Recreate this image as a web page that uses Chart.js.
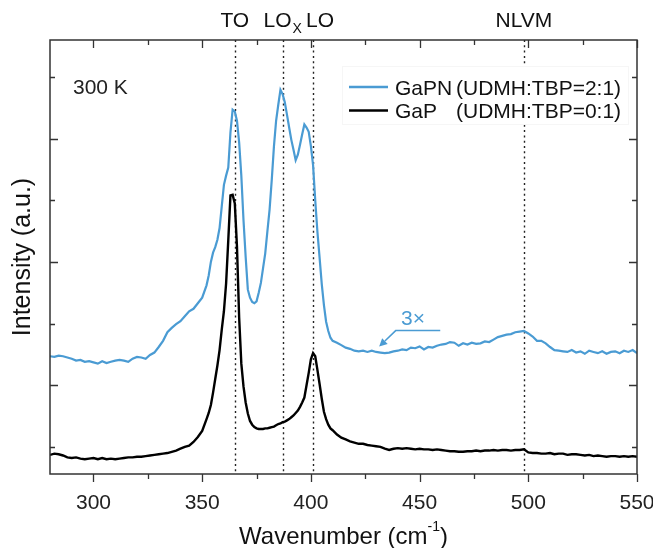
<!DOCTYPE html>
<html>
<head>
<meta charset="utf-8">
<title>Raman GaPN / GaP</title>
<script src="https://cdn.jsdelivr.net/npm/chart.js@4.4.1/dist/chart.umd.min.js"></script>
<style>
  html, body { margin: 0; padding: 0; background: #fff; }
  #wrap { width: 653px; height: 548px; }
</style>
</head>
<body>
<div id="wrap"><canvas id="ramanChart" width="653" height="548"></canvas></div>
<script>
// Raman spectra at 300 K, intensity in a.u. (GaPN trace is 3x magnified)
const wavenumber = [
  280, 282, 284, 286, 288, 290, 292, 294, 296, 298,
  300, 302, 304, 306, 308, 310, 312, 314, 316, 318,
  320, 322, 324, 326, 328, 330, 332, 334, 336, 338,
  340, 342, 344, 346, 348, 350, 352,
  353, 354, 355, 356, 357, 358, 359, 360, 361, 362,
  363, 364, 365, 366, 367, 368, 369, 370, 371, 372,
  373, 374, 375, 376, 377, 378, 379, 380, 381, 382,
  383, 384, 385, 386, 387, 388, 389, 390, 391, 392,
  393, 394, 395, 396, 397, 398, 399, 400, 401, 402,
  403, 404, 405, 406, 407, 408, 409, 410,
  412, 414, 416, 418, 420, 422, 424, 426, 428, 430,
  432, 434, 436, 438, 440, 442, 444, 446, 448, 450,
  452, 454, 456, 458, 460, 462, 464, 466, 468, 470,
  472, 474, 476, 478, 480, 482, 484, 486, 488, 490,
  492, 494, 496, 498, 500, 502, 504, 506, 508, 510,
  512, 514, 516, 518, 520, 522, 524, 526, 528, 530,
  532, 534, 536, 538, 540, 542, 544, 546, 548, 550
];

const gapnIntensity = [
  1.47, 1.46, 1.48, 1.47, 1.45, 1.43, 1.40, 1.41, 1.38, 1.39,
  1.37, 1.35, 1.39, 1.36, 1.38, 1.40, 1.41, 1.40, 1.38, 1.43,
  1.46, 1.45, 1.43, 1.49, 1.53, 1.62, 1.72, 1.86, 1.93, 1.99,
  2.04, 2.12, 2.20, 2.24, 2.33, 2.42, 2.62,
  2.78, 3.00, 3.15, 3.24, 3.36, 3.55, 3.90, 4.25, 4.40, 4.53,
  5.10, 5.47, 5.44, 5.29, 4.94, 4.40, 3.68, 3.08, 2.55, 2.42,
  2.35, 2.33, 2.36, 2.50, 2.66, 2.90, 3.14, 3.50, 3.85, 4.33,
  4.87, 5.29, 5.55, 5.79, 5.72, 5.59, 5.39, 5.18, 4.98, 4.82,
  4.65, 4.74, 4.90, 5.07, 5.23, 5.18, 5.11, 4.88, 4.57, 4.00,
  3.49, 3.07, 2.64, 2.30, 2.03, 1.88, 1.77, 1.72,
  1.69, 1.65, 1.61, 1.59, 1.56, 1.55, 1.56, 1.54, 1.56, 1.54,
  1.53, 1.52, 1.53, 1.55, 1.56, 1.58, 1.57, 1.61, 1.60, 1.63,
  1.58, 1.62, 1.61, 1.64, 1.66, 1.67, 1.70, 1.69, 1.64, 1.68,
  1.66, 1.69, 1.67, 1.68, 1.71, 1.70, 1.74, 1.78, 1.80, 1.82,
  1.83, 1.86, 1.87, 1.88, 1.84, 1.79, 1.72, 1.72, 1.68, 1.62,
  1.57, 1.56, 1.55, 1.54, 1.57, 1.53, 1.55, 1.51, 1.56, 1.54,
  1.52, 1.55, 1.51, 1.54, 1.55, 1.52, 1.56, 1.54, 1.57, 1.52
];

const gapIntensity = [
  -0.13, -0.11, -0.12, -0.14, -0.17, -0.18, -0.17, -0.19, -0.20, -0.19,
  -0.18, -0.20, -0.18, -0.20, -0.19, -0.20, -0.19, -0.18, -0.17, -0.17,
  -0.16, -0.16, -0.15, -0.14, -0.13, -0.12, -0.11, -0.10, -0.08, -0.06,
  -0.03, 0.00, 0.02, 0.08, 0.16, 0.26, 0.45,
  0.55, 0.68, 0.88, 1.10, 1.32, 1.57, 1.90, 2.20, 2.65, 3.35,
  4.08, 4.09, 3.95, 3.25, 2.10, 1.35, 0.98, 0.72, 0.54, 0.42,
  0.36, 0.32, 0.30, 0.29, 0.29, 0.29, 0.30, 0.30, 0.31, 0.32,
  0.33, 0.35, 0.37, 0.38, 0.40, 0.41, 0.43, 0.45, 0.48, 0.51,
  0.55, 0.59, 0.65, 0.72, 0.80, 1.00, 1.20, 1.42, 1.52, 1.47,
  1.25, 1.02, 0.78, 0.57, 0.45, 0.36, 0.30, 0.27,
  0.20, 0.15, 0.12, 0.09, 0.07, 0.05, 0.05, 0.03, 0.02, 0.01,
  0.00, -0.03, -0.05, -0.03, -0.02, -0.03, -0.02, -0.03, -0.04, -0.03,
  -0.04, -0.04, -0.05, -0.04, -0.05, -0.06, -0.07, -0.07, -0.08, -0.08,
  -0.07, -0.07, -0.06, -0.07, -0.06, -0.06, -0.05, -0.06, -0.05, -0.05,
  -0.06, -0.05, -0.05, -0.04, -0.09, -0.10, -0.10, -0.11, -0.11, -0.10,
  -0.12, -0.11, -0.11, -0.13, -0.12, -0.12, -0.13, -0.14, -0.13, -0.15,
  -0.14, -0.15, -0.16, -0.15, -0.15, -0.16, -0.15, -0.16, -0.15, -0.16
];

const seriesNames = ['GaPN', 'GaP'];
const seriesRatios = ['(UDMH:TBP=2:1)', '(UDMH:TBP=0:1)'];
const seriesColors = ['#4a9bd3', '#000000'];

// phonon modes marked by dotted lines
const phononPositions = [365, 387, 401, 498];
const phononNames = ['TO', 'LO', 'LO', 'NLVM'];
const phononSubs = ['', 'X', '', ''];

const xTickValues = [300, 325, 350, 375, 400, 425, 450, 475, 500, 525, 550];
const yTickValues = [0, 1, 2, 3, 4, 5, 6];

const FONT = '"Liberation Sans", Arial, sans-serif';
const BLUE = seriesColors[0];

const ramanDecor = {
  id: 'ramanDecor',
  beforeDatasetsDraw(chart) {
    const { ctx, chartArea: a, scales: { x } } = chart;
    ctx.save();
    ctx.strokeStyle = '#222';
    ctx.lineWidth = 1.4;
    ctx.setLineDash([2, 3.3]);
    phononPositions.forEach(v => {
      const px = Math.round(x.getPixelForValue(v)) + 0.5;
      ctx.beginPath();
      ctx.moveTo(px, a.top);
      ctx.lineTo(px, a.bottom);
      ctx.stroke();
    });
    ctx.restore();
  },
  afterDatasetsDraw(chart) {
    const { ctx, chartArea: a, scales: { x, y } } = chart;
    ctx.save();

    // frame + ticks (inside on left/top/right, outside at the bottom)
    ctx.strokeStyle = '#333';
    ctx.lineWidth = 1.5;
    ctx.strokeRect(a.left, a.top, a.right - a.left, a.bottom - a.top);
    ctx.lineWidth = 1.3;
    xTickValues.forEach(v => {
      const px = Math.round(x.getPixelForValue(v)) + 0.5;
      const len = v % 50 === 0 ? 8 : 5;
      ctx.beginPath();
      ctx.moveTo(px, a.bottom); ctx.lineTo(px, a.bottom + len);
      ctx.moveTo(px, a.top); ctx.lineTo(px, a.top + len);
      ctx.stroke();
    });
    yTickValues.forEach(v => {
      const py = Math.round(y.getPixelForValue(v)) + 0.5;
      const len = v % 2 === 1 ? 8 : 5;
      ctx.beginPath();
      ctx.moveTo(a.left, py); ctx.lineTo(a.left + len, py);
      ctx.moveTo(a.right, py); ctx.lineTo(a.right - len, py);
      ctx.stroke();
    });

    // mode labels above the frame
    ctx.fillStyle = '#111';
    ctx.textBaseline = 'alphabetic';
    ctx.textAlign = 'left';
    phononNames.forEach((name, i) => {
      ctx.font = '21px ' + FONT;
      const w1 = ctx.measureText(name).width;
      ctx.font = '14px ' + FONT;
      const w2 = phononSubs[i] ? ctx.measureText(phononSubs[i]).width + 1 : 0;
      const shift = i === 2 ? 7 : 0;
      const left = x.getPixelForValue(phononPositions[i]) + shift - (w1 + w2) / 2;
      ctx.font = '21px ' + FONT;
      ctx.fillText(name, left, 27);
      if (phononSubs[i]) {
        ctx.font = '14px ' + FONT;
        ctx.fillText(phononSubs[i], left + w1 + 1, 33);
      }
    });

    // temperature
    ctx.font = '21px ' + FONT;
    ctx.fillStyle = '#222';
    ctx.fillText('300 K', 73, 94);

    // legend
    ctx.fillStyle = '#fff';
    ctx.fillRect(342, 66, 286, 58);
    ctx.strokeStyle = '#f6f6f6';
    ctx.lineWidth = 1;
    ctx.strokeRect(342.5, 66.5, 286, 58);
    seriesNames.forEach((name, i) => {
      const cy = 87 + i * 23.5;
      ctx.strokeStyle = seriesColors[i];
      ctx.lineWidth = 2.4;
      ctx.beginPath();
      ctx.moveTo(349, cy);
      ctx.lineTo(388, cy);
      ctx.stroke();
      ctx.fillStyle = '#111';
      ctx.font = '21px ' + FONT;
      ctx.fillText(name, 395, cy + 7.5);
      ctx.fillText(seriesRatios[i], 456, cy + 7.5);
    });

    // 3x annotation with arrow pointing at the GaPN trace
    const hx0 = x.getPixelForValue(459.5), hx1 = x.getPixelForValue(439);
    const hy = y.getPixelForValue(1.886);
    const tx = x.getPixelForValue(431.4), ty = y.getPixelForValue(1.627);
    ctx.strokeStyle = BLUE;
    ctx.fillStyle = BLUE;
    ctx.lineWidth = 1.5;
    const ang = Math.atan2(ty - hy, tx - hx1);
    const bx = tx - 8 * Math.cos(ang), by = ty - 8 * Math.sin(ang);
    ctx.beginPath();
    ctx.moveTo(hx0, hy);
    ctx.lineTo(hx1, hy);
    ctx.lineTo(bx, by);
    ctx.stroke();
    ctx.beginPath();
    ctx.moveTo(tx, ty);
    ctx.lineTo(bx + 4 * Math.sin(ang), by - 4 * Math.cos(ang));
    ctx.lineTo(bx - 4 * Math.sin(ang), by + 4 * Math.cos(ang));
    ctx.closePath();
    ctx.fill();
    ctx.font = '21px ' + FONT;
    ctx.textAlign = 'center';
    ctx.fillText('3\u00d7', x.getPixelForValue(447), y.getPixelForValue(1.98));

    // x axis title with superscript
    ctx.fillStyle = '#111';
    ctx.textAlign = 'left';
    const main = 'Wavenumber (cm', sup = '-1', tail = ')';
    ctx.font = '24px ' + FONT;
    const wm = ctx.measureText(main).width, wt = ctx.measureText(tail).width;
    ctx.font = '14px ' + FONT;
    const ws = ctx.measureText(sup).width;
    let cx = (a.left + a.right) / 2 - (wm + ws + wt) / 2;
    ctx.font = '24px ' + FONT;
    ctx.fillText(main, cx, 544);
    ctx.font = '14px ' + FONT;
    ctx.fillText(sup, cx + wm, 531);
    ctx.font = '24px ' + FONT;
    ctx.fillText(tail, cx + wm + ws, 544);

    ctx.restore();
  }
};

new Chart(document.getElementById('ramanChart').getContext('2d'), {
  type: 'line',
  data: {
    datasets: [
      {
        label: seriesNames[0] + ' ' + seriesRatios[0],
        data: wavenumber.map((w, i) => ({ x: w, y: gapnIntensity[i] })),
        borderColor: seriesColors[0],
        borderWidth: 2.2,
        pointRadius: 0,
        tension: 0,
        fill: false
      },
      {
        label: seriesNames[1] + ' ' + seriesRatios[1],
        data: wavenumber.map((w, i) => ({ x: w, y: gapIntensity[i] })),
        borderColor: seriesColors[1],
        borderWidth: 2.4,
        pointRadius: 0,
        tension: 0,
        fill: false
      }
    ]
  },
  options: {
    responsive: false,
    animation: false,
    devicePixelRatio: 1,
    layout: { padding: { top: 40, right: 16, left: 0, bottom: 0 } },
    plugins: {
      legend: { display: false },
      tooltip: { enabled: false }
    },
    scales: {
      x: {
        type: 'linear',
        min: 280,
        max: 550,
        afterBuildTicks: s => { s.ticks = xTickValues.map(v => ({ value: v })); },
        afterFit: s => { s.height = 74; s.paddingLeft = 0; s.paddingRight = 0; },
        grid: { display: false, drawTicks: false },
        border: { display: false },
        ticks: {
          autoSkip: false,
          maxRotation: 0,
          padding: 17,
          color: '#222',
          font: { family: FONT, size: 21 },
          callback: v => (v % 50 === 0 ? v : '')
        }
      },
      y: {
        min: -0.44,
        max: 6.6,
        afterBuildTicks: s => { s.ticks = yTickValues.map(v => ({ value: v })); },
        afterFit: s => { s.width = 50; },
        grid: { display: false, drawTicks: false },
        border: { display: false },
        ticks: { display: false },
        title: {
          display: true,
          text: 'Intensity (a.u.)',
          color: '#111',
          font: { family: FONT, size: 25 },
          padding: { top: 8, bottom: 0 }
        }
      }
    }
  },
  plugins: [ramanDecor]
});
</script>
</body>
</html>
